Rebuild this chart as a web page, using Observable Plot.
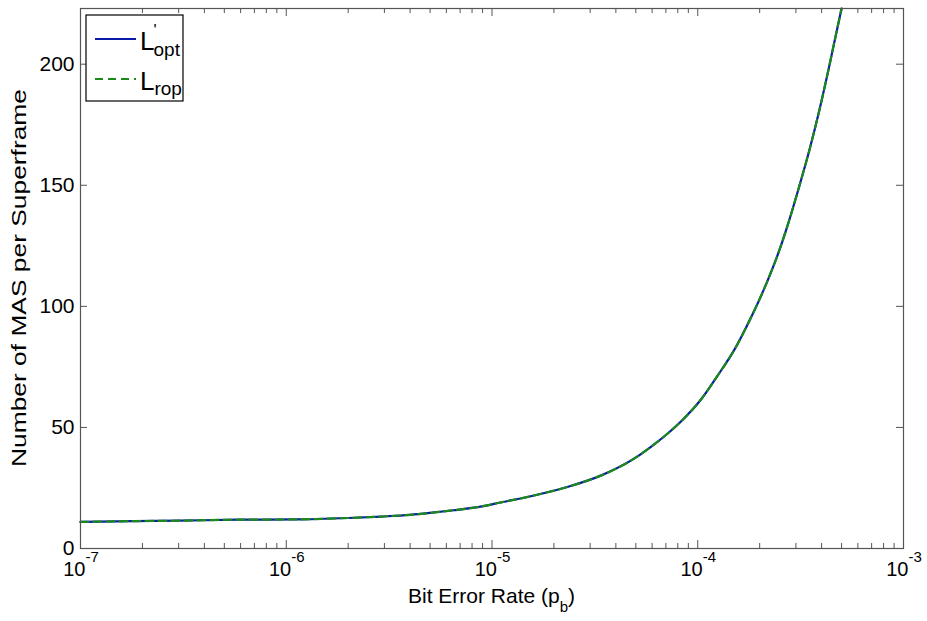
<!DOCTYPE html>
<html><head><meta charset="utf-8">
<script src="https://cdn.jsdelivr.net/npm/d3@7"></script>
<script src="https://cdn.jsdelivr.net/npm/@observablehq/plot@0.6"></script>
<style>body{margin:0;background:#fff} svg{display:block}</style>
</head><body><div id="chart"></div>
<script>
// Bit error rate values (x) and number of MAS per superframe (y)
const berValues = [1e-7, 1.8e-7, 3e-7, 5.8e-7, 1.1e-6, 2e-6, 2.9e-6, 4e-6, 5e-6, 6.5e-6, 8.8e-6, 1.1e-5, 1.6e-5, 2.3e-5, 3.4e-5, 4.9e-5, 5.9e-5, 7.1e-5, 8.55e-5, 1.03e-4, 1.24e-4, 1.5e-4, 1.8e-4, 2.17e-4, 2.5e-4, 2.77e-4, 3.1e-4, 3.5e-4, 3.9e-4, 4.3e-4, 4.65e-4, 5.0e-4];
const lOptValues = [11.0, 11.3, 11.5, 11.9, 12.0, 12.6, 13.2, 13.9, 14.7, 15.8, 17.3, 19.0, 21.9, 25.3, 30.2, 37.1, 41.9, 47.3, 53.6, 61.2, 71.0, 81.8, 94.8, 110, 123.5, 135, 149, 165, 181, 197, 210.5, 223];
const lRopValues = [11.0, 11.3, 11.5, 11.9, 12.0, 12.6, 13.2, 13.9, 14.7, 15.8, 17.3, 19.0, 21.9, 25.3, 30.2, 37.1, 41.9, 47.3, 53.6, 61.2, 71.0, 81.8, 94.8, 110, 123.5, 135, 149, 165, 181, 197, 210.5, 223];
const xMajorTicks = [1e-7, 1e-6, 1e-5, 1e-4, 1e-3];
const xExponents = ["-7", "-6", "-5", "-4", "-3"];
const yTicks = [0, 50, 100, 150, 200];
const xLabel = ["Bit Error Rate (p", "b", ")"];
const yLabel = "Number of MAS per Superframe";

const xMinorTicks = [];
for (let d = -7; d < -3; d++) for (let k = 2; k <= 9; k++) xMinorTicks.push(k * Math.pow(10, d));

const optData = berValues.map((x, i) => ({x, y: lOptValues[i]}));
const ropData = berValues.map((x, i) => ({x, y: lRopValues[i]}));

const W = 927, H = 621, mL = 80, mR = 24, mT = 8, mB = 73;
const innerW = W - mL - mR, innerH = H - mT - mB;
const axisColor = "#555";
const blue = "#0a1aa8", green = "#1a8a1a";
const FONT = "'Liberation Sans', Arial, Helvetica, sans-serif";

const plot = Plot.plot({
  width: W, height: H,
  marginLeft: mL, marginRight: mR, marginTop: mT, marginBottom: mB,
  style: {fontFamily: FONT, background: "#fff", color: "#000"},
  x: {type: "log", domain: [1e-7, 1e-3], axis: null},
  y: {domain: [0, 223], axis: null},
  marks: [
    // tick marks (inward, on all four sides)
    Plot.tickX(xMinorTicks, {x: d => d, insetTop: innerH - 5, stroke: axisColor}),
    Plot.tickX(xMinorTicks, {x: d => d, insetBottom: innerH - 5, stroke: axisColor}),
    Plot.tickX(xMajorTicks, {x: d => d, insetTop: innerH - 8, stroke: axisColor}),
    Plot.tickX(xMajorTicks, {x: d => d, insetBottom: innerH - 8, stroke: axisColor}),
    Plot.tickY(yTicks, {y: d => d, insetRight: innerW - 7, stroke: axisColor}),
    Plot.tickY(yTicks, {y: d => d, insetLeft: innerW - 7, stroke: axisColor}),
    // curves
    Plot.line(optData, {x: "x", y: "y", stroke: blue, strokeWidth: 2.2, curve: "monotone-x"}),
    Plot.line(ropData, {x: "x", y: "y", stroke: green, strokeWidth: 2.2, strokeDasharray: "8,5", curve: "monotone-x"}),
    Plot.frame({stroke: axisColor, strokeWidth: 1.2}),
    // tick labels
    Plot.text(yTicks, {y: d => d, text: d => String(d), frameAnchor: "left", dx: -6, textAnchor: "end", fontSize: 21, fill: "#000"}),
    Plot.text(xMajorTicks, {x: d => d, text: () => "10", frameAnchor: "bottom", dy: 27, dx: 5, textAnchor: "end", fontSize: 20, fill: "#000"}),
    Plot.text(xMajorTicks, {x: d => d, text: (d, i) => xExponents[i], frameAnchor: "bottom", dy: 13, dx: 5, textAnchor: "start", fontSize: 15, fill: "#000"})
  ]
});

const svg = d3.select(plot);

// axis labels
const xl = svg.append("text")
  .attr("x", mL + innerW / 2).attr("y", 603)
  .attr("text-anchor", "middle")
  .style("font-family", FONT).style("font-size", "21px").attr("fill", "#000");
xl.append("tspan").text(xLabel[0]);
xl.append("tspan").attr("dy", 9).style("font-size", "15px").text(xLabel[1]);
xl.append("tspan").attr("dy", -9).text(xLabel[2]);

svg.append("text")
  .attr("transform", `translate(19,${mT + innerH / 2}) rotate(-90)`)
  .attr("text-anchor", "middle").attr("dy", "0.35em")
  .attr("textLength", 378).attr("lengthAdjust", "spacingAndGlyphs")
  .style("font-family", FONT).style("font-size", "21px").attr("fill", "#000")
  .text(yLabel);

// legend
const lg = svg.append("g").attr("text-anchor", "start");
lg.append("rect").attr("x", 86).attr("y", 15).attr("width", 97).attr("height", 86)
  .attr("fill", "#fff").attr("stroke", "#000").attr("stroke-width", 1.2);
lg.append("line").attr("x1", 95).attr("x2", 136).attr("y1", 39).attr("y2", 39)
  .attr("stroke", blue).attr("stroke-width", 2.2);
lg.append("line").attr("x1", 95).attr("x2", 136).attr("y1", 79).attr("y2", 79)
  .attr("stroke", green).attr("stroke-width", 2.2).attr("stroke-dasharray", "8,5");
const t1 = lg.append("text").attr("x", 140).attr("y", 50).attr("text-anchor", "start")
  .style("font-family", FONT).style("font-size", "26px").attr("fill", "#000");
t1.append("tspan").text("L");
t1.append("tspan").attr("dy", -14).attr("dx", -1).style("font-size", "16px").text("'");
t1.append("tspan").attr("dy", 20).attr("dx", -3).style("font-size", "19px").text("opt");
const t2 = lg.append("text").attr("x", 140).attr("y", 90).attr("text-anchor", "start")
  .style("font-family", FONT).style("font-size", "26px").attr("fill", "#000");
t2.append("tspan").text("L");
t2.append("tspan").attr("dy", 5).style("font-size", "19px").text("rop");

document.getElementById("chart").appendChild(plot);
</script>
</body></html>
